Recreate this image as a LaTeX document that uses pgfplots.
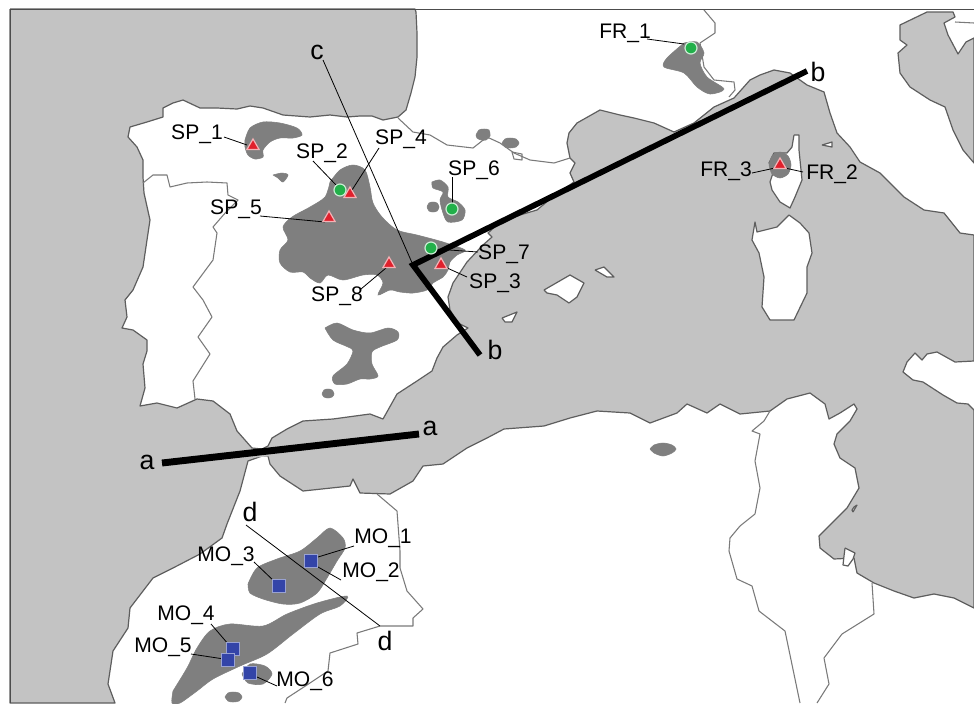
\documentclass[border=0pt]{standalone}
\usepackage{pgfplots}
\usepackage{fontspec}
\setmainfont{Liberation Sans}
\pgfplotsset{compat=1.18}
\definecolor{sea}{HTML}{C3C3C3}
\definecolor{coast}{HTML}{5E5E5E}
\definecolor{bord}{HTML}{7A7A7A}
\definecolor{patch}{HTML}{7F7F7F}
\definecolor{mred}{HTML}{E0202C}
\definecolor{mgreen}{HTML}{22B04A}
\definecolor{mblue}{HTML}{3344A8}
\pgfplotsset{
 seastyle/.style={fill=sea,draw=coast,line width=0.9pt,line join=round},
 island/.style={fill=white,draw=coast,line width=0.9pt,line join=round},
 border/.style={draw=bord,line width=0.8pt,line join=round},
 blob/.style={fill=patch,draw=patch,line width=0.4pt,smooth,tension=0.5},
 leader/.style={draw=black,line width=0.6pt},
 tri/.style={only marks,mark=triangle*,mark size=5.3pt,mark options={fill=mred,draw=white!65!mred,line width=0.9pt}},
 circ/.style={only marks,mark=*,mark size=4.5pt,mark options={fill=mgreen,draw=white!75!mgreen,line width=0.9pt}},
 squ/.style={only marks,mark=square*,mark size=4.6pt,mark options={fill=mblue,draw=white!50!mblue,line width=0.9pt}},
}
\newcommand{\lab}[2]{\node[font=\fontsize{15.8}{18}\selectfont,inner sep=0pt] at (axis cs:#1) {#2};}
\newcommand{\letr}[2]{\node[font=\fontsize{20}{22}\selectfont,inner sep=0pt] at (axis cs:#1) {#2};}
\begin{document}
\begin{tikzpicture}
\begin{axis}[scale only axis,width=730.5pt,height=527.25pt,xmin=0,xmax=974,ymin=0,ymax=703,y dir=reverse,hide axis]
% background
\addplot[fill=white,draw=none] coordinates {(0,0)(974,0)(974,703)(0,703)(0,0)};
% Atlantic
\addplot[seastyle] coordinates {(10,9)(415,9)(416,12)(417,33)(417,57)(415,77)(411,93)(406,110)(398,117)(383,120)(372,116)(360,116)(347,117)(330,115)(310,117)(283,115)(263,108)(250,106)(237,109)(217,108)(200,108)(183,100)(173,103)(163,108)(163,117)(147,122)(130,127)(128,137)(137,147)(143,160)(143,177)(144,193)(150,220)(147,240)(143,267)(133,290)(125,300)(127,317)(122,328)(133,330)(147,340)(147,351)(143,364)(145,388)(140,406)(157,403)(177,408)(197,399)(213,401)(230,414)(237,431)(252,448)(262,449)(262,456)(248,461)(240,491)(227,524)(222,538)(200,554)(173,568)(153,578)(130,608)(128,628)(113,651)(108,684)(115,703)(10,703)(10,9)};
% Mediterranean
\addplot[seastyle] coordinates {(262,449)(268,446)(272,438)(287,429)(303,421)(333,419)(370,414)(383,419)(397,394)(417,381)(432,371)(437,358)(443,347)(457,335)(468,328)(458,323)(450,310)(448,297)(453,283)(467,262)(483,245)(492,237)(488,233)(500,222)(520,215)(537,210)(555,195)(574,182)(570,173)(575,163)(570,158)(567,143)(569,133)(577,123)(600,110)(620,115)(634,118)(654,123)(674,132)(694,123)(714,107)(734,98)(750,80)(760,75)(774,70)(790,73)(807,85)(824,92)(830,113)(837,133)(850,147)(860,162)(880,173)(904,197)(924,210)(944,213)(960,233)(974,235)(974,608)(954,598)(934,594)(914,598)(894,591)(874,583)(857,573)(854,558)(834,559)(820,548)(819,536)(834,521)(847,508)(859,488)(855,468)(840,458)(834,444)(837,434)(850,421)(857,409)(854,404)(840,413)(829,419)(825,404)(810,393)(787,399)(770,411)(740,414)(720,404)(707,413)(687,404)(677,413)(650,423)(630,413)(597,411)(570,418)(544,426)(504,429)(487,438)(467,448)(443,464)(423,466)(413,481)(390,494)(360,493)(353,479)(350,486)(303,491)(280,476)(270,464)(268,456)(262,456)(262,449)};
\addplot[fill=sea,draw=none] coordinates {(250,449)(272,449)(272,456)(250,458)(250,449)};
% Adriatic
\addplot[seastyle] coordinates {(927,12)(953,12)(955,17)(944,23)(948,35)(958,54)(966,42)(974,38)(974,163)(963,150)(953,130)(945,107)(930,100)(910,87)(900,73)(898,53)(907,45)(900,40)(900,25)(927,12)};
% Islands
\addplot[island] coordinates {(794,135)(799,135)(799,150)(802,180)(795,197)(790,208)(780,202)(772,190)(770,182)(774,170)(769,163)(774,153)(787,153)(792,147)(794,135)};
\addplot[island] coordinates {(789,215)(800,223)(809,233)(812,253)(807,267)(807,293)(794,320)(770,320)(762,307)(764,277)(759,253)(752,240)(755,222)(757,232)(777,227)(789,215)};
\addplot[island] coordinates {(544,290)(570,275)(584,283)(577,297)(569,303)(557,295)(547,293)(544,290)};
\addplot[island] coordinates {(595,270)(604,267)(614,277)(607,277)(595,270)};
\addplot[island] coordinates {(502,318)(517,312)(512,322)(505,322)(502,318)};
\addplot[island] coordinates {(822,145)(832,142)(832,147)(822,145)};
\addplot[island] coordinates {(974,361)(955,362)(937,352)(927,354)(922,360)(915,353)(907,362)(903,372)(913,380)(923,382)(943,395)(957,403)(968,404)(974,410)};
\addplot[island] coordinates {(853,512)(857,505)(854,507)(852,510)(853,512)};
\addplot[island] coordinates {(845,548)(855,553)(853,559)(848,566)(843,565)(844,556)(845,548)};
% Borders
\addplot[border] coordinates {(143,183)(153,175)(167,175)(170,187)(187,183)(207,182)(227,183)(228,195)(238,200)(226,212)(213,227)(217,233)(213,260)(193,287)(203,300)(212,317)(198,337)(210,354)(193,381)(195,399)};
\addplot[border] coordinates {(398,118)(413,132)(430,135)(447,145)(473,148)(487,137)(500,143)(514,153)(530,160)(554,163)(570,158)};
\addplot[border] coordinates {(512,152)(522,154)(522,160)(514,159)(512,152)};
\addplot[border] coordinates {(704,10)(715,23)(715,33)(700,43)(704,67)(714,80)(734,82)(735,90)(729,97)};
\addplot[border] coordinates {(377,494)(397,511)(400,551)(400,568)(407,591)(423,609)(413,618)(413,626)(380,626)(357,633)(358,644)(330,653)(328,671)(310,683)(287,698)(285,703)};
\addplot[border] coordinates {(770,411)(764,421)(752,431)(760,434)(755,461)(760,488)(755,514)(740,526)(730,538)(729,551)(737,579)(752,586)(759,611)(785,631)(800,703)};
\addplot[border] coordinates {(872,583)(874,614)(842,634)(824,658)(829,684)(817,703)};
\addplot[border] coordinates {(955,22)(974,23)};
% Patches
\addplot[blob] coordinates {(245,140)(250,128)(263,122)(280,123)(297,128)(302,135)(293,138)(280,138)(270,142)(263,150)(263,157)(255,159)(248,155)(245,147)(245,140)};
\addplot[blob] coordinates {(273,175)(282,173)(288,175)(283,182)(278,178)(273,175)};
\addplot[blob] coordinates {(330,182)(340,170)(353,165)(365,170)(370,187)(373,203)(382,217)(397,230)(417,235)(443,242)(465,250)(457,255)(450,262)(448,270)(443,277)(433,283)(427,290)(413,293)(400,292)(390,290)(378,295)(383,283)(377,275)(363,275)(343,280)(328,275)(320,283)(310,278)(303,272)(290,272)(280,263)(280,250)(288,240)(283,227)(292,217)(310,207)(325,197)(330,182)};
\addplot[blob] coordinates {(325,328)(337,323)(353,330)(370,333)(388,328)(398,332)(397,340)(380,347)(372,352)(372,364)(378,376)(370,379)(360,379)(347,384)(335,384)(333,376)(347,364)(353,351)(348,347)(333,340)(325,328)};
\addplot[blob] coordinates {(322,394)(324,390)(328,389)(332,390)(334,394)(332,397)(328,398)(324,397)(322,394)};
\addplot[blob] coordinates {(476,135)(479,130)(484,129)(489,130)(490,136)(486,140)(481,140)(477,138)(476,135)};
\addplot[blob] coordinates {(502,143)(505,139)(510,138)(516,139)(519,143)(516,147)(510,148)(505,147)(502,143)};
\addplot[blob] coordinates {(432,182)(440,180)(448,187)(448,197)(458,202)(465,210)(462,220)(448,222)(443,213)(440,200)(443,192)(433,188)(432,182)};
\addplot[blob] coordinates {(427,207)(429,203)(433,202)(437,203)(439,207)(437,211)(433,212)(429,211)(427,207)};
\addplot[blob] coordinates {(684,43)(697,42)(704,53)(700,63)(707,77)(724,89)(710,94)(697,87)(684,73)(664,67)(667,58)(684,43)};
\addplot[blob] coordinates {(769,165)(772,156)(780,152)(788,156)(791,165)(788,174)(780,178)(772,174)(769,165)};
\addplot[blob] coordinates {(650,449)(654,445)(663,443)(672,445)(676,449)(672,453)(663,456)(654,453)(650,449)};
\addplot[blob] coordinates {(248,584)(257,568)(277,559)(300,551)(317,538)(330,528)(343,538)(345,548)(337,561)(327,578)(317,593)(300,603)(283,604)(263,599)(250,593)(248,584)};
\addplot[blob] coordinates {(173,691)(187,668)(197,648)(210,631)(230,624)(263,626)(287,614)(317,603)(347,596)(340,606)(320,614)(293,634)(267,654)(240,666)(213,679)(197,691)(180,703)(172,703)(173,691)};
\addplot[blob] coordinates {(242,674)(250,664)(265,666)(272,674)(263,684)(248,683)(242,674)};
\addplot[blob] coordinates {(225,697)(228,693)(233,692)(239,693)(242,697)(239,701)(233,702)(228,701)(225,697)};
% Section lines
\addplot[leader] coordinates {(323,60)(413,265)};
\addplot[leader] coordinates {(246,525)(380,626)};
\addplot[draw=black,line width=4.3pt,line join=miter] coordinates {(807,71)(413,265)(480,355)};
\addplot[draw=black,line width=5.2pt] coordinates {(162,463)(419,434)};
% Leaders
\addplot[leader] coordinates {(224,137)(247,145)};
\addplot[leader] coordinates {(313,161)(337,186)};
\addplot[leader] coordinates {(379,148)(352,190)};
\addplot[leader] coordinates {(260,216)(325,222)};
\addplot[leader] coordinates {(452,177)(452,205)};
\addplot[leader] coordinates {(435,249)(478,252)};
\addplot[leader] coordinates {(445,267)(467,277)};
\addplot[leader] coordinates {(361,289)(386,268)};
\addplot[leader] coordinates {(647,39)(684,44)};
\addplot[leader] coordinates {(752,173)(775,168)};
\addplot[leader] coordinates {(785,168)(803,172)};
\addplot[leader] coordinates {(318,557)(354,546)};
\addplot[leader] coordinates {(318,567)(341,580)};
\addplot[leader] coordinates {(254,562)(275,582)};
\addplot[leader] coordinates {(211,624)(229,645)};
\addplot[leader] coordinates {(191,654)(224,659)};
\addplot[leader] coordinates {(257,677)(277,686)};
% Sites
\addplot[tri] coordinates {(253,146)(350,194)(329,218)(441,265)(389,264)(780,165)};
\addplot[circ] coordinates {(340,190)(452,209)(431,248)(691,48)};
\addplot[squ] coordinates {(311,561)(279,586)(233,649)(228,660)(250,673)};
% Frame
\addplot[draw=black!70,line width=0.7pt] coordinates {(10,703)(10,9)(974,9)};
\lab{197,134}{SP\_1}
\lab{322,153}{SP\_2}
\lab{495,283}{SP\_3}
\lab{401,139}{SP\_4}
\lab{236,209}{SP\_5}
\lab{474,170}{SP\_6}
\lab{504,254}{SP\_7}
\lab{337,296}{SP\_8}
\lab{625,33}{FR\_1}
\lab{832,174}{FR\_2}
\lab{726,171}{FR\_3}
\lab{383,538}{MO\_1}
\lab{371,572}{MO\_2}
\lab{226,556}{MO\_3}
\lab{186,615}{MO\_4}
\lab{163,647}{MO\_5}
\lab{305,681}{MO\_6}
\letr{147,462}{a}
\letr{430,428}{a}
\letr{495,350}{b}
\letr{818,72}{b}
\letr{317,52}{c}
\letr{250,512}{d}
\letr{385,641}{d}
\end{axis}
\end{tikzpicture}
\end{document}
